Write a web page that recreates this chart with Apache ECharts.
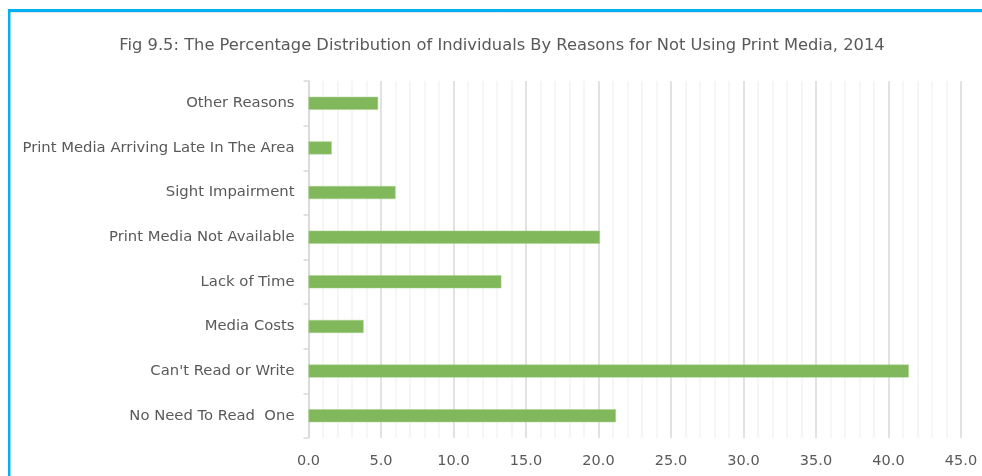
<!DOCTYPE html>
<html>
<head>
<meta charset="utf-8">
<script src="https://cdn.jsdelivr.net/npm/echarts@6/dist/echarts.min.js"></script>
<style>
  html, body { margin: 0; padding: 0; background: #ffffff; }
  #chart { width: 982px; height: 476px; }
</style>
</head>
<body>
<div id="chart"></div>
<script>
// Reasons for not using print media (top to bottom)
const categories = [
  'Other Reasons',
  'Print Media Arriving Late In The Area',
  'Sight Impairment',
  'Print Media Not Available',
  'Lack of Time',
  'Media Costs',
  "Can't Read or Write",
  'No Need To Read  One'
];
// Percentage of individuals per reason
const percentages = [4.8, 1.6, 6.0, 20.1, 13.3, 3.8, 41.4, 21.2];
// Value axis range and step
const axisMin = 0;
const axisMax = 45;
const axisStep = 5;

const titleText = 'Fig 9.5: The Percentage Distribution of Individuals By Reasons for Not Using Print Media, 2014';
const fontFamily = '"DejaVu Sans", sans-serif';

const chart = echarts.init(document.getElementById('chart'), null, { renderer: 'canvas' });

chart.setOption({
  backgroundColor: '#ffffff',
  animation: false,
  title: {
    text: titleText,
    left: 497,
    textAlign: 'center',
    top: 33,
    textStyle: {
      color: '#595959',
      fontSize: 16.3,
      fontWeight: 'normal',
      fontFamily: fontFamily
    }
  },
  graphic: [
    // frame edge: top
    {
      type: 'line',
      shape: { x1: 8, y1: 10.5, x2: 990, y2: 10.5 },
      style: { stroke: '#00b0f0', lineWidth: 3 },
      silent: true
    },
    {
      type: 'line',
      shape: { x1: 10, y1: 12.5, x2: 990, y2: 12.5 },
      style: { stroke: '#e6e6e6', lineWidth: 1 },
      silent: true
    },
    // frame edge: left
    {
      type: 'line',
      shape: { x1: 9.2, y1: 9, x2: 9.2, y2: 480 },
      style: { stroke: '#00b0f0', lineWidth: 2.5 },
      silent: true
    }
  ],
  grid: {
    left: 308.5,
    right: 21,
    top: 81,
    bottom: 38
  },
  xAxis: {
    type: 'value',
    min: axisMin,
    max: axisMax,
    interval: axisStep,
    axisLine: { show: false },
    axisTick: { show: false },
    axisLabel: {
      color: '#595959',
      fontSize: 14.5,
      fontFamily: fontFamily,
      margin: 16,
      formatter: function (v) { return v.toFixed(1); }
    },
    splitLine: { show: true, lineStyle: { color: '#d9d9d9', width: 1.5 } },
    minorTick: { show: false, splitNumber: 5 },
    minorSplitLine: { show: true, lineStyle: { color: '#f3f3f3', width: 1.5 } }
  },
  yAxis: {
    type: 'category',
    data: categories,
    inverse: true,
    axisLine: { show: true, lineStyle: { color: '#d9d9d9', width: 1.5 } },
    axisTick: { show: true, length: 5, lineStyle: { color: '#d9d9d9', width: 1.5 } },
    axisLabel: {
      color: '#595959',
      fontSize: 14.8,
      fontFamily: fontFamily,
      margin: 14
    },
    splitLine: { show: false }
  },
  series: [
    {
      type: 'bar',
      data: percentages,
      barWidth: 13,
      itemStyle: { color: '#80b85b', borderColor: '#a9d18e', borderWidth: 0.5 }
    }
  ]
});
</script>
</body>
</html>
